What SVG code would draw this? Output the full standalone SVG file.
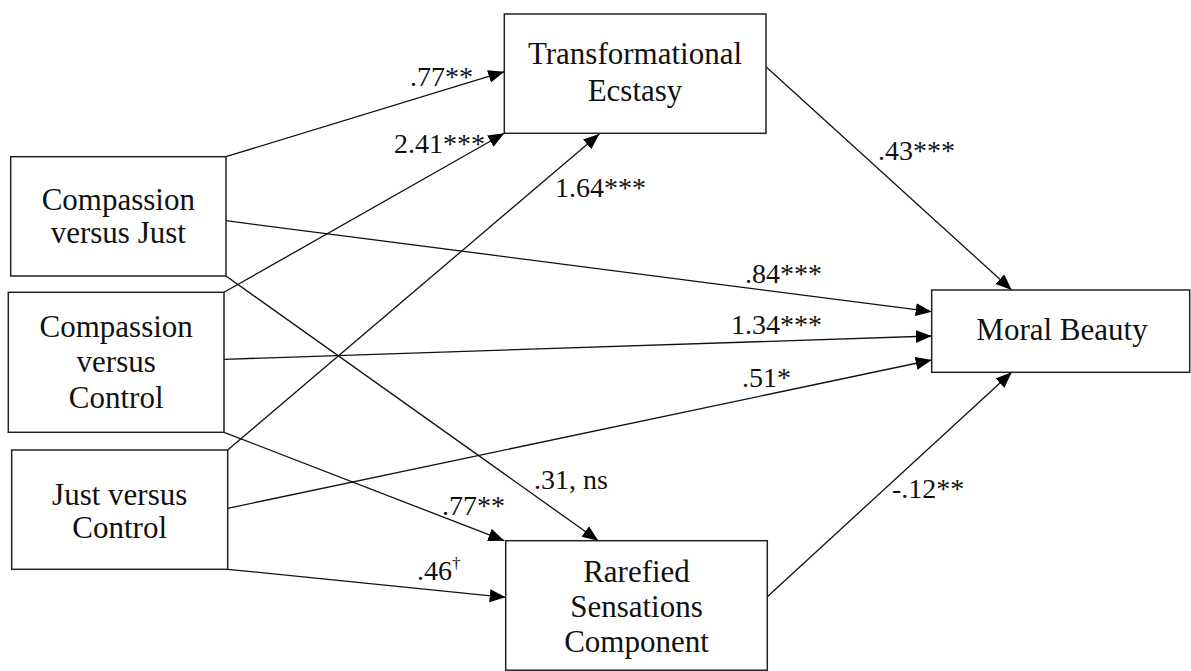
<svg xmlns="http://www.w3.org/2000/svg" width="1191" height="671" viewBox="0 0 1191 671">
  <style>
    .box { fill: #ffffff; stroke: #222222; stroke-width: 1.5; }
    .nt { font-size: 31px; fill: #111111; text-anchor: middle; }
    .lb { font-size: 28px; fill: #111111; }
    .sup { font-size: 17px; }
    .edge { fill: none; stroke: #111111; stroke-width: 1.3; marker-end: url(#arr); }
  </style>
  <defs>
    <marker id="arr" markerUnits="userSpaceOnUse" markerWidth="17" markerHeight="14" refX="16" refY="6.5" orient="auto">
      <path d="M0,0 L16,6.5 L0,13 Z" fill="#000000"/>
    </marker>
  </defs>
  <rect width="1191" height="671" fill="#ffffff"/>

  <g id="connectors">
    <line class="edge" x1="226" y1="156.7" x2="504.3" y2="71.7"/>
    <line class="edge" x1="224" y1="292.3" x2="504.3" y2="133.3"/>
    <line class="edge" x1="227.7" y1="450" x2="599.3" y2="134"/>
    <line class="edge" x1="226" y1="220.7" x2="931.7" y2="311.7"/>
    <line class="edge" x1="224" y1="359.3" x2="931.7" y2="336"/>
    <line class="edge" x1="227.7" y1="508.3" x2="931.7" y2="360"/>
    <line class="edge" x1="226" y1="276" x2="598.3" y2="540.7"/>
    <line class="edge" x1="224" y1="432.3" x2="504.3" y2="540.7"/>
    <line class="edge" x1="227.7" y1="569.3" x2="505.7" y2="597.3"/>
    <line class="edge" x1="766" y1="66.7" x2="1011.7" y2="290"/>
    <line class="edge" x1="767.3" y1="596.7" x2="1011.7" y2="372.3"/>
  </g>

  <g id="labels" font-family="'Liberation Serif', 'DejaVu Serif', serif">
    <text class="lb" x="410" y="86">.77**</text>
    <text class="lb" x="394" y="153">2.41***</text>
    <text class="lb" x="555" y="197">1.64***</text>
    <text class="lb" x="878" y="160">.43***</text>
    <text class="lb" x="745" y="283">.84***</text>
    <text class="lb" x="731" y="334">1.34***</text>
    <text class="lb" x="742" y="387">.51*</text>
    <text class="lb" x="534" y="489">.31, ns</text>
    <text class="lb" x="892" y="498">-.12**</text>
    <text class="lb" x="442" y="515">.77**</text>
    <text class="lb" x="417" y="580">.46<tspan class="sup" dy="-11">†</tspan></text>
  </g>

  <g id="nodes" font-family="'Liberation Serif', 'DejaVu Serif', serif">
  <g id="node-transformational">
    <rect class="box" x="504.3" y="14" width="261.7" height="119.3"/>
    <text class="nt" x="635" y="64">Transformational</text>
    <text class="nt" x="635" y="101">Ecstasy</text>
  </g>
  <g id="node-compassion-just">
    <rect class="box" x="10.7" y="156.7" width="215.3" height="119.3"/>
    <text class="nt" x="118.3" y="210">Compassion</text>
    <text class="nt" x="118.3" y="243">versus Just</text>
  </g>
  <g id="node-compassion-control">
    <rect class="box" x="8.3" y="292.3" width="215.7" height="140"/>
    <text class="nt" x="116.2" y="337">Compassion</text>
    <text class="nt" x="116.2" y="372">versus</text>
    <text class="nt" x="116.2" y="408">Control</text>
  </g>
  <g id="node-just-control">
    <rect class="box" x="11.7" y="450" width="216" height="119.3"/>
    <text class="nt" x="119.7" y="505">Just versus</text>
    <text class="nt" x="119.7" y="538">Control</text>
  </g>
  <g id="node-moral-beauty">
    <rect class="box" x="931.7" y="290" width="258" height="82.3"/>
    <text class="nt" x="1062" y="340">Moral Beauty</text>
  </g>
  <g id="node-rarefied">
    <rect class="box" x="505.7" y="540.7" width="261.6" height="129.5"/>
    <text class="nt" x="636.5" y="582">Rarefied</text>
    <text class="nt" x="636.5" y="617">Sensations</text>
    <text class="nt" x="636.5" y="652">Component</text>
  </g>
  </g>
</svg>
